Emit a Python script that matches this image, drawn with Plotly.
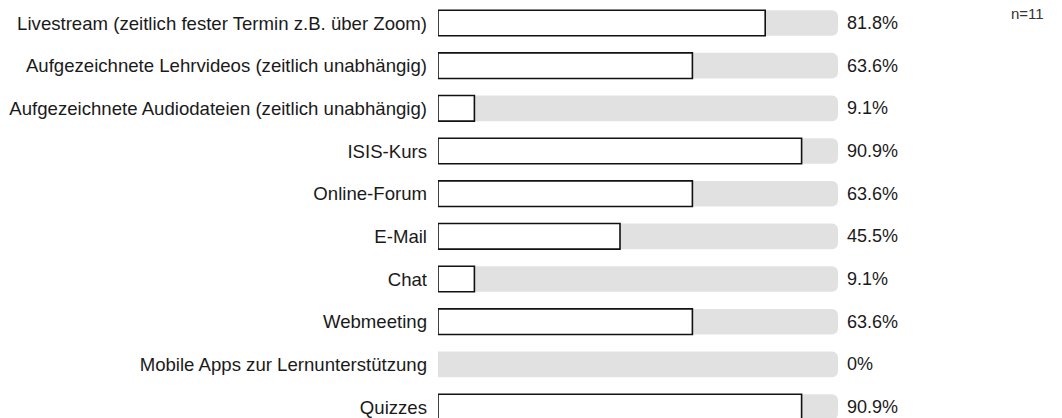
import plotly.graph_objects as go

categories = [
    "Livestream (zeitlich fester Termin z.B. über Zoom)",
    "Aufgezeichnete Lehrvideos (zeitlich unabhängig)",
    "Aufgezeichnete Audiodateien (zeitlich unabhängig)",
    "ISIS-Kurs",
    "Online-Forum",
    "E-Mail",
    "Chat",
    "Webmeeting",
    "Mobile Apps zur Lernunterstützung",
    "Quizzes",
]
values = [81.8, 63.6, 9.1, 90.9, 63.6, 45.5, 9.1, 63.6, 0, 90.9]
value_labels = ["81.8%", "63.6%", "9.1%", "90.9%", "63.6%", "45.5%", "9.1%", "63.6%", "0%", "90.9%"]
max_value = 100
n_label = "n=11"

ypos = list(range(len(categories)))
FONT = "Liberation Sans, Arial, Helvetica, sans-serif"

fig = go.Figure()
fig.add_trace(go.Bar(
    x=[max_value] * len(categories), y=ypos, orientation="h",
    marker=dict(color="#e1e1e1", line=dict(width=0), cornerradius=6),
    width=0.6, hoverinfo="skip", showlegend=False,
))
fig.add_trace(go.Bar(
    x=values, y=ypos, orientation="h",
    marker=dict(color="#ffffff", cornerradius=6,
                line=dict(color="#111111", width=[0 if v == 0 else 1.6 for v in values])),
    width=0.6, showlegend=False,
))

for yi, lab in zip(ypos, value_labels):
    fig.add_annotation(x=max_value, y=yi, xref="x", yref="y", text=lab,
                       showarrow=False, xanchor="left", xshift=7,
                       font=dict(size=18, color="#1a1a1a", family=FONT))

fig.add_annotation(x=1.52, y=1.0, xref="paper", yref="paper", text=n_label,
                   showarrow=False, xanchor="right", yanchor="middle", yshift=-5,
                   font=dict(size=15, color="#333333", family=FONT))

fig.update_layout(
    width=1054, height=410,
    margin=dict(l=430, r=224, t=0, b=0, autoexpand=False),
    barmode="overlay",
    plot_bgcolor="white", paper_bgcolor="white",
    font=dict(family=FONT, size=18, color="#1a1a1a"),
    xaxis=dict(range=[0, max_value], visible=False, fixedrange=True),
    yaxis=dict(range=[9.257, -0.3515], tickvals=ypos, ticktext=categories,
               showgrid=False, zeroline=False, showline=False, ticks="",
               automargin=False, ticklabelstandoff=10,
               tickfont=dict(size=18.6, color="#1a1a1a", family=FONT)),
)

fig.write_html("out.html")
